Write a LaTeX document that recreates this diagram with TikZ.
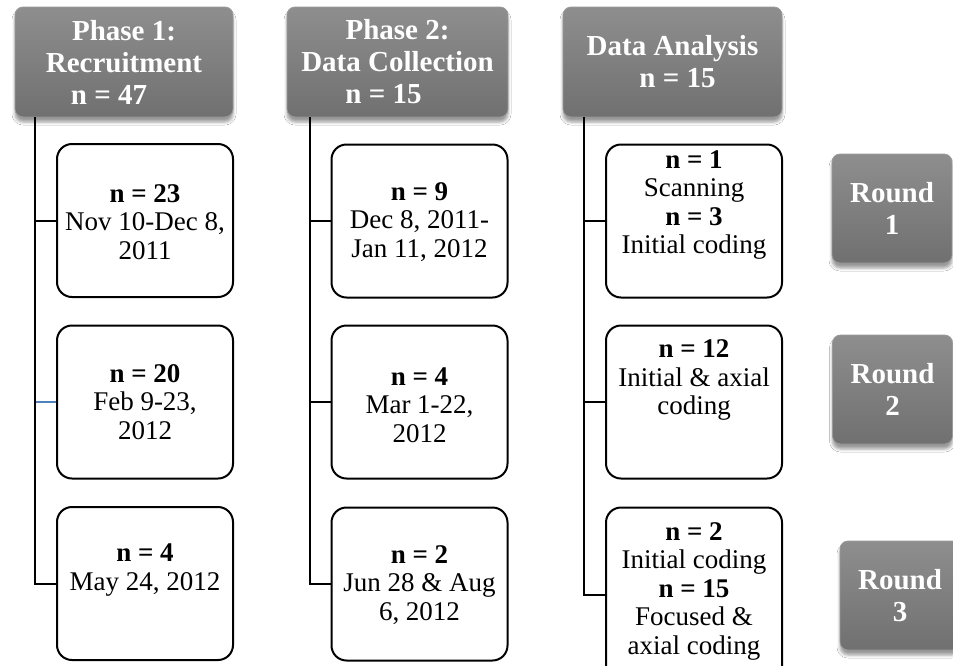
\documentclass[tikz,border=0pt]{standalone}
\usepackage{fontspec}
\setmainfont{Liberation Serif}
\usetikzlibrary{shadows.blur}
\definecolor{boxtop}{HTML}{8E8E8E}
\definecolor{boxbot}{HTML}{707070}
\definecolor{boxedge}{HTML}{9A9A9A}
\definecolor{blueline}{HTML}{4F81BD}
\tikzset{
  headbox/.style={rectangle, rounded corners=8pt, top color=boxtop, bottom color=boxbot,
    draw=boxedge, line width=0.8pt, text=white, font=\fontsize{29}{32}\selectfont\bfseries,
    align=center, inner sep=0pt,
    blur shadow={shadow xshift=0pt, shadow yshift=-5pt, shadow blur radius=3pt, shadow opacity=40}},
  childbox/.style={rectangle, rounded corners=15pt, draw=black, line width=2pt, fill=white,
    minimum width=176pt, minimum height=153pt, inner sep=0pt},
  childtext/.style={align=center, inner sep=0pt, font=\fontsize{27}{28.5}\selectfont},
  conn/.style={draw=black, line width=2pt},
  connblue/.style={draw=blueline, line width=1.5pt},
}
\begin{document}
\begin{tikzpicture}[x=1pt, y=-1pt]
\useasboundingbox (0,0) rectangle (953,665);
\clip (0,0) rectangle (953,665);
\fill[white] (0,0) rectangle (953,665);

% header boxes
\node[headbox, minimum width=218pt, minimum height=110pt] (h1) at (124,62)
  {Phase 1:\\Recruitment\\n = 47\hspace*{30pt}};
\node[headbox, minimum width=221pt, minimum height=110pt] (h2) at (397.5,62)
  {Phase 2:\\Data Collection\\n = 15\hspace*{28pt}};
\node[headbox, minimum width=219pt, minimum height=110pt] (h3) at (672.5,62)
  {Data Analysis\\\hspace*{10pt}n = 15};

% round boxes
\node[headbox, minimum width=120pt, minimum height=109pt] (r1) at (892,208.5) {Round\\1};
\node[headbox, minimum width=120pt, minimum height=109pt] (r2) at (892.5,389.5) {Round\\2};
\node[headbox, minimum width=120pt, minimum height=109pt] (r3) at (900,595.5) {Round\\3};

% child boxes Phase 1
\node[childbox] (a1) at (145,220.5) {};
\node[childbox] (a2) at (145,402) {};
\node[childbox] (a3) at (145,583.5) {};
\node[childtext] (ta1) at (145,222) {\textbf{n = 23}\\Nov 10-Dec 8,\\2011};
\node[childtext] (ta2) at (145,402) {\textbf{n = 20}\\Feb 9-23,\\2012};
\node[childtext] (ta3) at (145,570) {\textbf{n = 4}\\May 24, 2012};

% child boxes Phase 2
\node[childbox] (b1) at (419.5,221) {};
\node[childbox] (b2) at (419.5,402) {};
\node[childbox] (b3) at (419.5,584) {};
\node[childtext] (tb1) at (419.5,222) {\textbf{n = 9}\\Dec 8, 2011-\\Jan 11, 2012};
\node[childtext] (tb2) at (419.5,405) {\textbf{n = 4}\\Mar 1-22,\\2012};
\node[childtext] (tb3) at (419.5,585) {\textbf{n = 2}\\Jun 28 \& Aug\\6, 2012};

% child boxes Data Analysis
\node[childbox] (c1) at (694,221) {};
\node[childbox] (c2) at (694,402) {};
\node[childbox, minimum height=175pt] (c3) at (694,595) {};
\node[childtext] (tc1) at (694,205) {\textbf{n = 1}\\Scanning\\\textbf{n = 3}\\Initial coding};
\node[childtext] (tc2) at (694,380) {\textbf{n = 12}\\Initial \& axial\\coding};
\node[childtext] (tc3) at (694,591) {\textbf{n = 2}\\Initial coding\\\textbf{n = 15}\\Focused \&\\axial coding};

% connectors
\coordinate (v1) at (35,117);
\coordinate (v2) at (310,117);
\coordinate (v3) at (584,117);
\draw[conn] (v1) |- (a3.west);
\draw[conn] (v1 |- a1.west) -- (a1.west);
\draw[connblue] ([xshift=1pt]v1 |- a2.west) -- (a2.west);
\draw[conn] (v2) |- (b3.west);
\draw[conn] (v2 |- b1.west) -- (b1.west);
\draw[conn] (v2 |- b2.west) -- (b2.west);
\draw[conn] (v3) |- (c3.west);
\draw[conn] (v3 |- c1.west) -- (c1.west);
\draw[conn] (v3 |- c2.west) -- (c2.west);
\end{tikzpicture}
\end{document}
